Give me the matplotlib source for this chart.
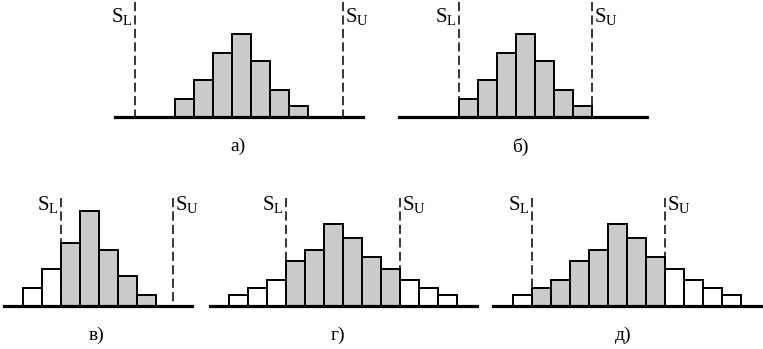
import matplotlib
matplotlib.use("Agg")
import matplotlib.pyplot as plt
import matplotlib.transforms as mtransforms

plt.rcParams["font.family"] = ["Liberation Serif", "DejaVu Serif"]
plt.rcParams["mathtext.fontset"] = "custom"
plt.rcParams["mathtext.rm"] = "Liberation Serif"

# frequencies of each histogram class
freq_a = [18, 37, 64, 83, 56, 27, 11]
freq_b = [18, 37, 64, 83, 56, 27, 11]
freq_v = [18, 37, 63, 95, 56, 30, 11]
freq_g = [11, 18, 26, 45, 56, 82, 68, 49, 37, 26, 18, 11]
freq_d = [11, 18, 26, 45, 56, 82, 68, 49, 37, 26, 18, 11]

# tolerance limits (in class units)
lower = [-2.1, 0.0, 2.0, 3.0, 1.0]
upper = [8.85, 7.0, 7.9, 9.0, 8.0]

captions = ["а)", "б)", "в)", "г)", "д)"]
series = [freq_a, freq_b, freq_v, freq_g, freq_d]

W, H = 763, 349
fig = plt.figure(figsize=(W / 100, H / 100), dpi=100)

BAR_PX = 19.0
# panel layout in pixels: left edge, baseline (from top), x-limits, top of axes
layout = [
    (115, 117, (-3.15, 9.9), 115),
    (399, 117, (-3.15, 9.9), 115),
    (4, 305.7, (-1.0, 8.9), 108),
    (210, 305.7, (-1.0, 13.05), 108),
    (493, 305.7, (-1.05, 13.1), 108),
]
cap_shift = [-1, -3, -1, -5, -4]

for k, (left, base, xl, ytop) in enumerate(layout):
    width = (xl[1] - xl[0]) * BAR_PX
    ax = fig.add_axes([left / W, (H - base) / H, width / W, ytop / H])
    ax.set_xlim(*xl)
    ax.set_ylim(0, ytop)
    ax.axis("off")

    vals = series[k]
    lo, hi = lower[k], upper[k]
    colors = []
    for i in range(len(vals)):
        inside = i >= lo - 1e-6 and i + 1 <= hi + 1e-6
        colors.append("#cacaca" if inside else "white")
    ax.bar(range(len(vals)), vals, width=1.0, align="edge", color=colors,
           edgecolor="black", linewidth=1.4, zorder=2)

    ax.axhline(0, color="black", linewidth=2.3, zorder=3, clip_on=False)
    # limit lines, dashed from the top down
    for s in (lo, hi):
        ax.plot([s, s], [ytop, 0], color="black", linewidth=1.1,
                linestyle=(0, (6.0, 2.8)), zorder=4, clip_on=False)

    ax.text(lo - 0.1, 95, r"$\mathrm{S}_{\mathrm{L}}$", ha="right", va="baseline",
            fontsize=15)
    ax.text(hi + 0.1, 95, r"$\mathrm{S}_{\mathrm{U}}$", ha="left", va="baseline",
            fontsize=15)

    trans = mtransforms.offset_copy(ax.transAxes, fig=fig, x=cap_shift[k], y=0,
                                    units="dots")
    ax.text(0.5, -29.5 / ytop, captions[k], transform=trans, ha="center",
            va="center", fontsize=14)

fig.savefig("out.png", dpi=100)
